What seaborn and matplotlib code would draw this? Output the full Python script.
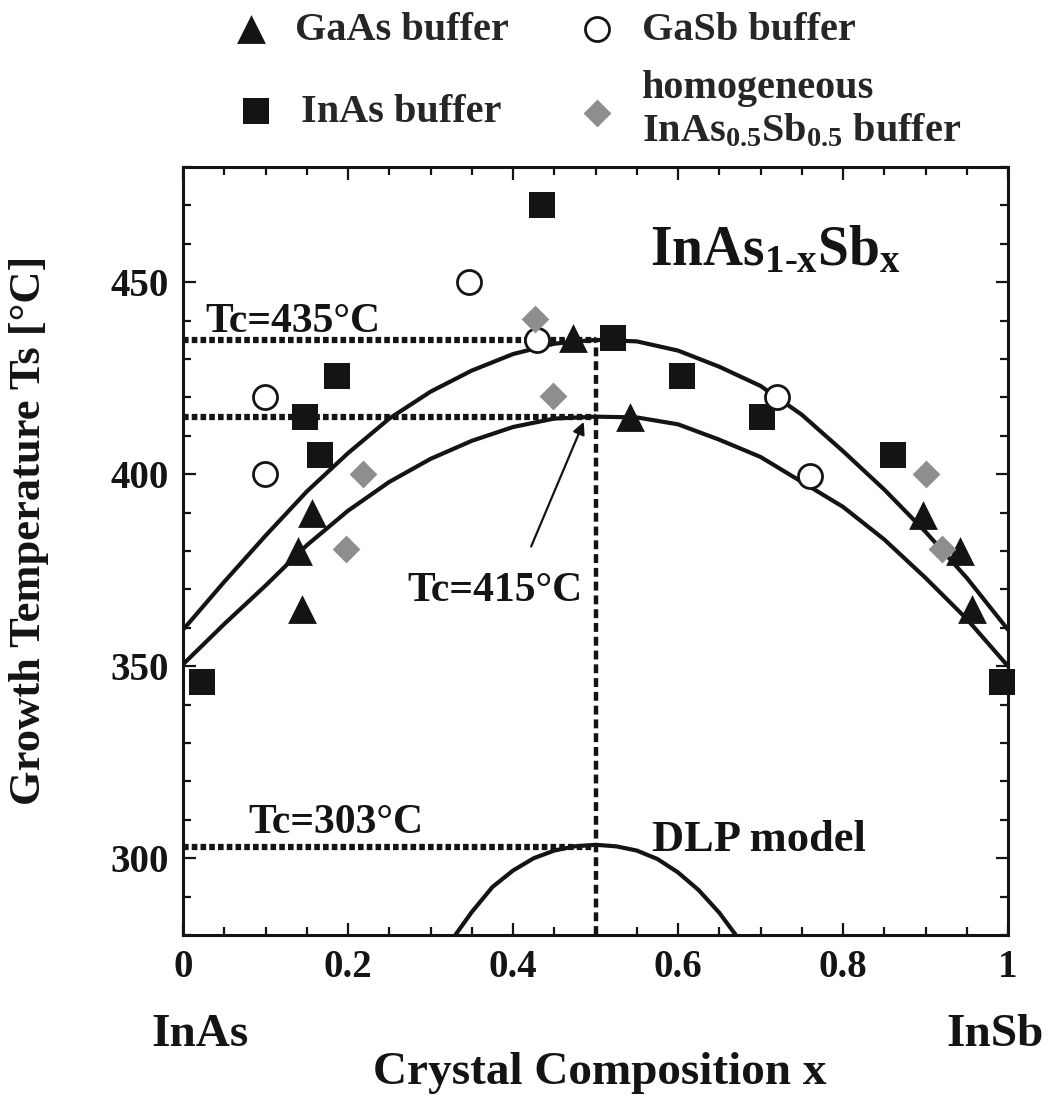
import matplotlib
matplotlib.use('Agg')
import matplotlib.pyplot as plt
import seaborn as sns
import pandas as pd

# marker data (x = Sb fraction, y = growth temperature)
gaas_x = [0.139, 0.144, 0.156, 0.473, 0.542, 0.897, 0.942, 0.956]
gaas_y = [380, 365, 390, 435.5, 415, 389.5, 380, 365]

gasb_x = [0.099, 0.099, 0.347, 0.429, 0.720, 0.760]
gasb_y = [420, 400, 450, 435, 420, 399.5]

inas_x = [0.023, 0.148, 0.166, 0.187, 0.435, 0.521, 0.605, 0.702, 0.861, 0.993]
inas_y = [346, 415, 405, 425.5, 470, 435.5, 425.5, 415, 405, 346]

homo_x = [0.198, 0.218, 0.427, 0.448, 0.900, 0.920]
homo_y = [380.5, 400, 440.5, 420.5, 400, 380.5]

# solid curves
curve_x = [0.0, 0.05, 0.1, 0.15, 0.2, 0.25, 0.3, 0.35, 0.4, 0.45, 0.5,
           0.55, 0.6, 0.65, 0.7, 0.75, 0.8, 0.85, 0.9, 0.95, 1.0]
upper_y = [359.5, 372, 384, 395.5, 405.5, 414.5, 421.5, 427, 431.3, 434, 435,
           434.6, 432.2, 428, 423, 415.5, 406, 396, 385, 373, 359.5]
lower_y = [350.5, 361, 371, 381.5, 390.5, 398, 404, 408.7, 412.3, 414.5, 415,
           414.8, 413, 409, 404.5, 398, 391.5, 383, 373, 362.3, 350]

dlp_x = [0.33, 0.35, 0.375, 0.4, 0.425, 0.45, 0.475, 0.5,
         0.525, 0.55, 0.575, 0.6, 0.625, 0.65, 0.67]
dlp_y = [280, 286, 292.5, 296.8, 300, 302, 303.1, 303.5,
         303.1, 302, 299.8, 296.3, 291.7, 285.8, 280]

tc_values = [435, 415, 303]
x_ticks = [0, 0.2, 0.4, 0.6, 0.8, 1]
x_ticklabels = ['0', '0.2', '0.4', '0.6', '0.8', '1']
y_ticks = [300, 350, 400, 450]

sns.set_theme(style='ticks')
plt.rcParams['font.family'] = ['Liberation Serif', 'DejaVu Serif']
plt.rcParams['font.weight'] = 'bold'
plt.rcParams['mathtext.fontset'] = 'custom'
plt.rcParams['mathtext.rm'] = 'Liberation Serif:bold'
plt.rcParams['mathtext.it'] = 'Liberation Serif:bold'
plt.rcParams['mathtext.bf'] = 'Liberation Serif:bold'

ink = '#141414'

fig = plt.figure(figsize=(10.55, 10.99), dpi=100)
ax = fig.add_axes([0.1735, 0.1492, 0.782, 0.6988])

# curves
sns.lineplot(x=curve_x, y=upper_y, ax=ax, color=ink, lw=3, sort=False, zorder=2)
sns.lineplot(x=curve_x, y=lower_y, ax=ax, color=ink, lw=3, sort=False, zorder=2)
sns.lineplot(x=dlp_x, y=dlp_y, ax=ax, color=ink, lw=3, sort=False, zorder=2)

# Tc guide lines
for tc in tc_values:
    ax.plot([0, 0.5], [tc, tc], color=ink, lw=4.5, ls=(0, (0.9, 0.5)), zorder=1)
ax.plot([0.5, 0.5], [280, 435], color=ink, lw=3.2, ls=(0, (2.0, 1.1)), zorder=1)

# markers
sns.scatterplot(x=gaas_x, y=gaas_y, ax=ax, marker='^', s=430, color=ink,
                edgecolor=ink, linewidth=0, label='GaAs buffer', zorder=3, clip_on=False)
sns.scatterplot(x=inas_x, y=inas_y, ax=ax, marker='s', s=340, color=ink,
                edgecolor=ink, linewidth=0, label='InAs buffer', zorder=3, clip_on=False)
sns.scatterplot(x=gasb_x, y=gasb_y, ax=ax, marker='o', s=300, facecolor='white',
                edgecolor=ink, linewidth=2, label='GaSb buffer', zorder=3, clip_on=False)
sns.scatterplot(x=homo_x, y=homo_y, ax=ax, marker='D', s=200, color='#8e8e8e',
                edgecolor='#8e8e8e', linewidth=0,
                label='homogeneous\nInAs$_{0.5}$Sb$_{0.5}$ buffer', zorder=3, clip_on=False)

handles, labels = ax.get_legend_handles_labels()
if ax.get_legend() is not None:
    ax.get_legend().remove()

# legend entries placed one by one, like the original 2x2 key
spots = {'GaAs buffer': (0.219, 0.9727),
         'InAs buffer': (0.224, 0.898),
         'GaSb buffer': (0.547, 0.9727),
         'homogeneous\nInAs$_{0.5}$Sb$_{0.5}$ buffer': (0.547, 0.900)}
for h, lab in zip(handles, labels):
    leg = fig.legend([h], [lab], loc='center left', bbox_to_anchor=spots[lab],
                     frameon=False, fontsize=29, handlelength=1.0,
                     handletextpad=0.6, borderpad=0, borderaxespad=0,
                     labelspacing=0.1)
    leg.get_texts()[0].set_fontweight('bold')

# annotations
ax.text(0.027, 437.1, 'Tc=435°C', fontsize=30, fontweight='bold', color=ink, va='baseline')
ax.text(0.2715, 367, 'Tc=415°C', fontsize=30, fontweight='bold', color=ink, va='baseline')
ax.text(0.079, 306.5, 'Tc=303°C', fontsize=30, fontweight='bold', color=ink, va='baseline')
ax.text(0.568, 302, 'DLP model', fontsize=32, fontweight='bold', color=ink, va='baseline')
ax.text(0.566, 454.5, r'InAs$_{1\text{-}x}$Sb$_{x}$', fontsize=40, fontweight='bold',
        color=ink, va='baseline')
ax.annotate('', xy=(0.487, 414.3), xytext=(0.4206, 380.5),
            arrowprops=dict(arrowstyle='-|>', color=ink, lw=1.6, mutation_scale=18))

# axes styling
ax.set_xlim(0, 1)
ax.set_ylim(280, 480)
ax.set_xticks(x_ticks)
ax.set_xticklabels(x_ticklabels)
ax.set_yticks(y_ticks)
ax.set_xticks([i * 0.05 for i in range(21)], minor=True)
ax.set_yticks(list(range(280, 481, 10)), minor=True)
ax.tick_params(which='both', direction='in', top=True, right=True, width=1.6,
               color=ink, labelsize=28, labelcolor=ink)
ax.tick_params(which='major', length=9, pad=10)
ax.tick_params(which='minor', length=6)
for lab in ax.get_xticklabels() + ax.get_yticklabels():
    lab.set_fontweight('bold')
for sp in ax.spines.values():
    sp.set_linewidth(2.2)
    sp.set_color(ink)

ax.set_xlabel('Crystal Composition x', fontsize=34, fontweight='bold', color=ink)
ax.set_ylabel('Growth Temperature Ts [°C]', fontsize=32, fontweight='bold', color=ink)
ax.xaxis.set_label_coords(0.505, -0.152)
ax.yaxis.set_label_coords(-0.163, 0.527)
ax.text(0.02, -0.13, 'InAs', transform=ax.transAxes, fontsize=34, fontweight='bold',
        color=ink, ha='center', va='center')
ax.text(0.984, -0.13, 'InSb', transform=ax.transAxes, fontsize=34, fontweight='bold',
        color=ink, ha='center', va='center')

fig.savefig('out.png', dpi=100, facecolor='white')
